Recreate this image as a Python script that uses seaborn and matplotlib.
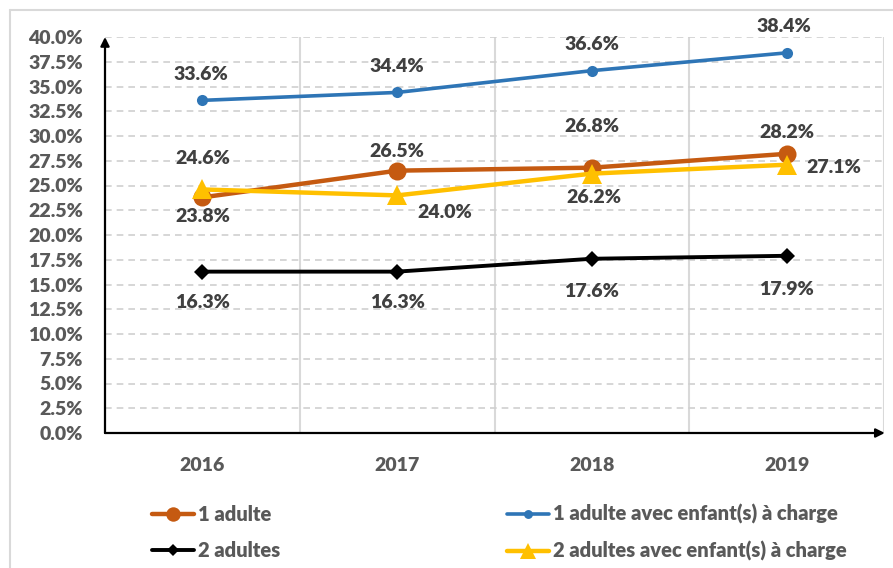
import matplotlib
matplotlib.use("Agg")
import matplotlib.pyplot as plt
import seaborn as sns
import numpy as np
import pandas as pd
from matplotlib.ticker import FixedLocator, FuncFormatter
from matplotlib.lines import Line2D

years = ["2016", "2017", "2018", "2019"]
series_names = ["1 adulte", "2 adultes",
                "1 adulte avec enfant(s) à charge",
                "2 adultes avec enfant(s) à charge"]
one_adult = [23.8, 26.5, 26.8, 28.2]
two_adults = [16.3, 16.3, 17.6, 17.9]
one_adult_kids = [33.6, 34.4, 36.6, 38.4]
two_adults_kids = [24.6, 24.0, 26.2, 27.1]
y_ticks = [i * 2.5 for i in range(17)]

sns.set_theme(style="white")
plt.rcParams['font.family'] = ['Lato', 'DejaVu Sans']

fig = plt.figure(figsize=(8.93, 5.68), dpi=100)
ax = fig.add_axes([105/893, 1-433/568, (884-105)/893, (433-37)/568])

xpos = np.arange(len(years)) + 0.5
values = {"1 adulte": one_adult, "2 adultes": two_adults,
          "1 adulte avec enfant(s) à charge": one_adult_kids,
          "2 adultes avec enfant(s) à charge": two_adults_kids}
styles = {
    "1 adulte": dict(color="#C55A11", marker="o", ms=13, lw=3.2, z=3),
    "2 adultes": dict(color="#000000", marker="D", ms=8, lw=2.8, z=3),
    "1 adulte avec enfant(s) à charge": dict(color="#2E75B6", marker="o", ms=8, lw=2.6, z=3),
    "2 adultes avec enfant(s) à charge": dict(color="#FFC000", marker="^", ms=14, lw=3.2, z=4),
}
df = pd.DataFrame([(n, x, v) for n in series_names for x, v in zip(xpos, values[n])],
                  columns=["serie", "x", "val"])

handles = {}
for n in series_names:
    st = styles[n]
    sub = df[df.serie == n]
    sns.lineplot(data=sub, x="x", y="val", ax=ax, color=st["color"], marker=st["marker"],
                 markersize=st["ms"], linewidth=st["lw"], markeredgewidth=0,
                 zorder=st["z"], legend=False)
    handles[n] = Line2D([], [], color=st["color"], marker=st["marker"],
                        markersize=st["ms"] * 0.8, linewidth=st["lw"], markeredgewidth=0)

# data label offsets in pixels (dx, dy)
offsets = {
    "1 adulte": [(0, -19), (0, 19), (0, 41), (0, 21)],
    "2 adultes": [(0, -31), (0, -31), (0, -33), (0, -34)],
    "1 adulte avec enfant(s) à charge": [(-2, 26), (0, 26), (0, 26), (-3, 26)],
    "2 adultes avec enfant(s) à charge": [(0, 31), (48, -17), (2, -24), (47, -3)],
}
for n in series_names:
    for x, v, (dx, dy) in zip(xpos, values[n], offsets[n]):
        ax.annotate(f"{v:.1f}%", (x, v), xytext=(dx * 0.72, dy * 0.72),
                    textcoords="offset points", ha="center", va="center",
                    fontsize=14, fontweight="heavy", color="#404040", zorder=6)

ax.set_xlim(0, 4)
ax.set_ylim(0, 40)
ax.set_xlabel("")
ax.set_ylabel("")
ax.yaxis.set_major_locator(FixedLocator(y_ticks))
ax.yaxis.set_major_formatter(FuncFormatter(lambda v, p: f"{v:.1f}%"))
ax.set_xticks(xpos)
ax.set_xticklabels(years)
ax.xaxis.set_minor_locator(FixedLocator([1, 2, 3]))
ax.tick_params(axis="y", length=0, pad=16, labelsize=14, labelcolor="#595959")
ax.tick_params(axis="x", which="major", length=0, pad=17, labelsize=14, labelcolor="#595959")
ax.tick_params(axis="x", which="minor", length=5, width=1.5, color="black", direction="out")
for lab in ax.get_xticklabels() + ax.get_yticklabels():
    lab.set_fontweight("heavy")

ax.grid(False)
ax.yaxis.grid(True, which="major", color="#D0D0D0", linestyle=(0, (4, 3)), linewidth=1.2)
ax.xaxis.grid(True, which="minor", color="#D9D9D9", linestyle="-", linewidth=1.5)
ax.axvline(4, color="#D9D9D9", linewidth=1.5, zorder=1)
for s in ax.spines.values():
    s.set_visible(False)

# axis arrows
ax.annotate("", xy=(0, 1), xytext=(0, 0), xycoords="axes fraction",
            arrowprops=dict(arrowstyle="-|>", color="black", lw=1.6, mutation_scale=13,
                            shrinkA=0, shrinkB=0), zorder=7)
ax.annotate("", xy=(1.001, 0), xytext=(0, 0), xycoords="axes fraction",
            arrowprops=dict(arrowstyle="-|>", color="black", lw=1.6, mutation_scale=13,
                            shrinkA=0, shrinkB=0), zorder=7)

leg = fig.legend([handles[n] for n in series_names], series_names, ncol=2,
                 loc="upper left", bbox_to_anchor=(152/893, 1-504/568),
                 frameon=False, fontsize=14.5, handlelength=2.1, handletextpad=0.2,
                 columnspacing=11.25, labelspacing=0.85, borderaxespad=0, borderpad=0)
for t in leg.get_texts():
    t.set_fontweight("heavy")
    t.set_color("#595959")

# outer chart border
fig.add_artist(plt.Line2D([10/893, 10/893], [0, 1-10/568], color="#D9D9D9", lw=1.5,
                          transform=fig.transFigure))
fig.add_artist(plt.Line2D([10/893, 1], [1-10/568, 1-10/568], color="#D9D9D9", lw=1.5,
                          transform=fig.transFigure))

fig.savefig("out.png", dpi=100)
